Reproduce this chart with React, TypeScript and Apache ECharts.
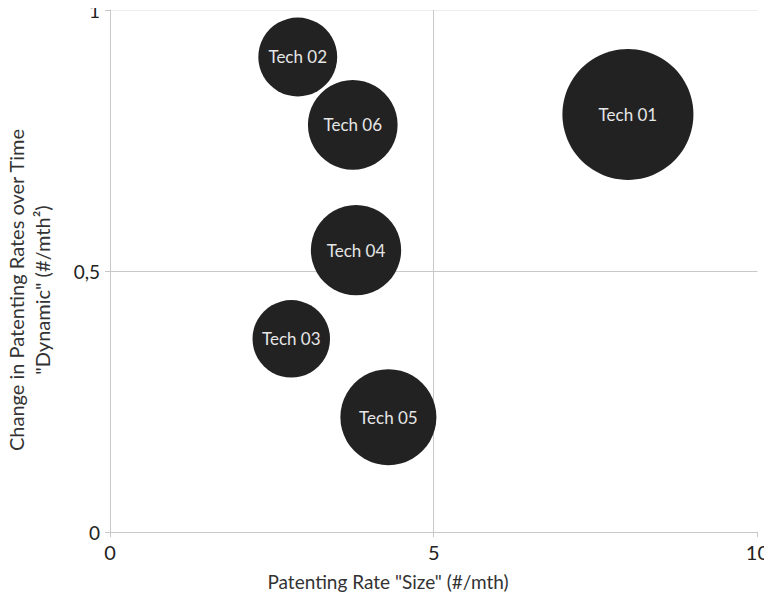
import React, { useEffect, useRef } from "react";
import * as echarts from "echarts";

const techNames = ["Tech 01", "Tech 02", "Tech 03", "Tech 04", "Tech 05", "Tech 06"];
const sizeRate = [8.0, 2.9, 2.8, 3.8, 4.3, 3.75];
const dynamicRate = [0.8, 0.91, 0.37, 0.54, 0.22, 0.78];
const bubbleSize = [8.0, 2.9, 2.8, 3.8, 4.3, 3.75];
const xTicks = [0, 5, 10];
const yTickLabels: Record<string, string> = { "0": "0", "0.5": "0,5", "1": "1" };

const FONT = "Lato, 'Noto Sans', sans-serif";

export default function App() {
  const ref = useRef<HTMLDivElement>(null);
  useEffect(() => {
    if (!ref.current) return;
    const chart = echarts.init(ref.current, undefined, { renderer: "svg" });
    const data = techNames.map((n, i) => ({
      name: n,
      value: [sizeRate[i], dynamicRate[i], bubbleSize[i]],
    }));
    chart.setOption({
      animation: false,
      backgroundColor: "#ffffff",
      grid: { left: 110, right: 14, top: 10, bottom: 68 },
      xAxis: {
        type: "value",
        min: xTicks[0],
        max: xTicks[xTicks.length - 1],
        interval: 5,
        axisLine: { show: true, lineStyle: { color: "#c8c8c8", width: 1 } },
        axisTick: { show: true, length: 5, lineStyle: { color: "#c8c8c8" } },
        axisLabel: { color: "#222", fontSize: 20, fontFamily: FONT, margin: 10 },
        splitLine: { show: true, lineStyle: { color: ["#c8c8c8", "#c8c8c8", "rgba(0,0,0,0)"], width: 1 } },
      },
      yAxis: {
        type: "value",
        min: 0,
        max: 1,
        interval: 0.5,
        axisLine: { show: true, lineStyle: { color: "#c8c8c8", width: 1 } },
        axisTick: { show: true, length: 5, lineStyle: { color: "#c8c8c8" } },
        axisLabel: {
          color: "#222",
          fontSize: 19,
          fontFamily: FONT,
          margin: 10,
          formatter: (v: number) => yTickLabels[String(v)] ?? String(v).replace(".", ","),
        },
        splitLine: { show: true, lineStyle: { color: ["#c8c8c8", "#c8c8c8", "#ededed"], width: 1 } },
      },
      series: [
        {
          type: "scatter",
          data,
          symbol: "circle",
          symbolSize: (val: number[]) => 131 * Math.sqrt(val[2] / 8),
          itemStyle: { color: "#222222", opacity: 1 },
          label: {
            show: true,
            position: "inside",
            formatter: (p: any) => p.name,
            color: "#e6e6e6",
            fontSize: 17,
            fontFamily: FONT,
          },
        },
      ],
      graphic: [
        {
          type: "text",
          x: 388,
          y: 581,
          style: {
            text: 'Patenting Rate "Size" (#/mth)',
            fill: "#333",
            font: `19px ${FONT}`,
            align: "center",
            verticalAlign: "middle",
          },
        },
        {
          type: "text",
          x: 29,
          y: 290,
          rotation: Math.PI / 2,
          style: {
            text: 'Change in Patenting Rates over Time\n"Dynamic" (#/mth²)',
            fill: "#333",
            font: `20px ${FONT}`,
            align: "center",
            verticalAlign: "middle",
            lineHeight: 26,
          },
        },
      ],
    });
    return () => chart.dispose();
  }, []);
  return <div ref={ref} style={{ width: 772, height: 600, margin: -8 }} />;
}
